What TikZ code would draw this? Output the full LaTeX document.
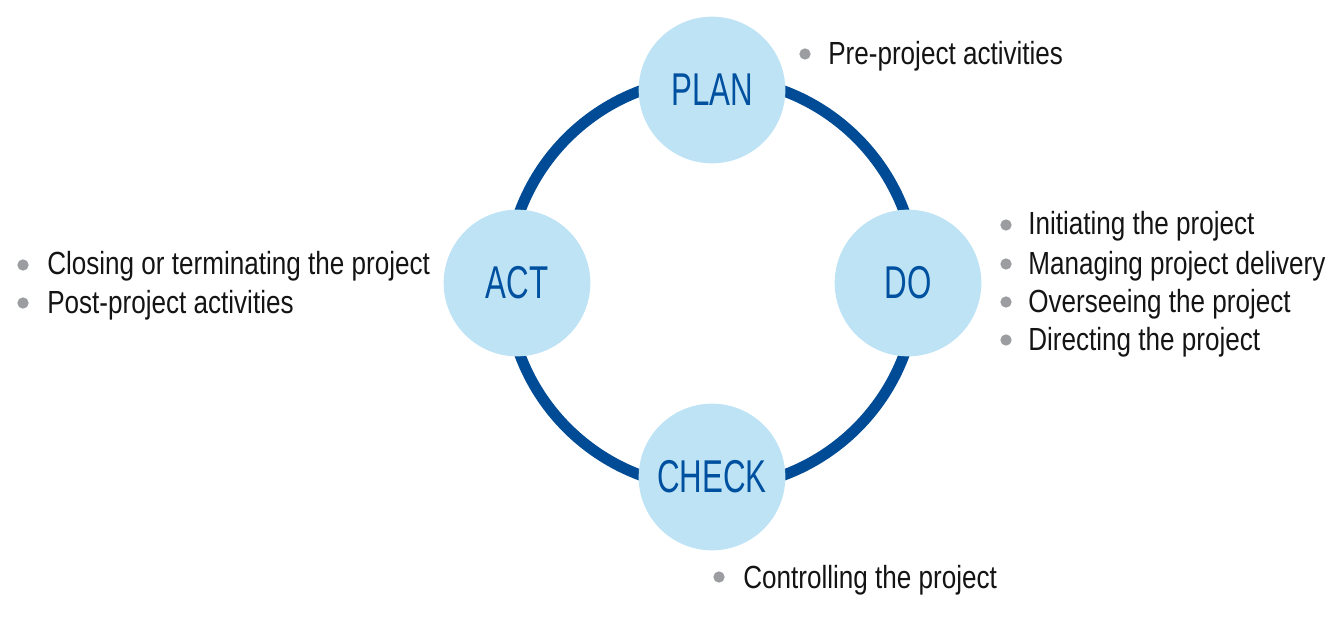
\documentclass[tikz,border=0pt]{standalone}
\usepackage{fontspec}
\setmainfont{Liberation Sans}[FakeStretch=0.815]
\newfontfamily\phasefont{Liberation Sans}[FakeStretch=0.68]
\definecolor{ringblue}{RGB}{0,75,150}
\definecolor{phasefill}{RGB}{190,227,245}
\definecolor{phasetext}{RGB}{0,80,160}
\definecolor{bulletgray}{RGB}{155,157,161}
\definecolor{bodytext}{RGB}{20,20,20}
\tikzset{
  ring/.style={draw=ringblue, line width=8.25pt},
  phase/.style={circle, fill=phasefill, minimum size=110pt, inner sep=0pt,
    text=phasetext, font=\phasefont\fontsize{34.5}{40}\selectfont},
  bulletdot/.style={circle, fill=bulletgray, minimum size=8.5pt, inner sep=0pt},
  item/.style={anchor=base west, inner sep=0pt, text=bodytext,
    font=\fontsize{24}{28}\selectfont}
}
\begin{document}
\begin{tikzpicture}[x=0.75pt,y=-0.75pt]
\useasboundingbox (0,0) rectangle (1334,620);
\coordinate (c) at (712,283);
\draw[ring] (c) circle[radius=153.75pt];
\node[phase] (plan) at (712,90) {PLAN};
\node[phase] (do) at (908,283) {DO};
\node[phase] (check) at (712,477) {CHECK};
\node[phase] (act) at (517,283) {ACT};
% PLAN list
\node[bulletdot] (b1) at (805,54) {};
\node[item] (t1) at (828,65) {Pre-project activities};
% DO list
\node[bulletdot] (b2) at (1006,225) {};
\node[item] (t2) at (1028,235) {Initiating the project};
\node[bulletdot] (b3) at (1006,264) {};
\node[item] (t3) at (1028,274) {Managing project delivery};
\node[bulletdot] (b4) at (1006,302) {};
\node[item] (t4) at (1028,312) {Overseeing the project};
\node[bulletdot] (b5) at (1006,340) {};
\node[item] (t5) at (1028,350) {Directing the project};
% ACT list
\node[bulletdot] (b6) at (23,265) {};
\node[item] (t6) at (47,275) {Closing or terminating the project};
\node[bulletdot] (b7) at (23,303) {};
\node[item] (t7) at (47,313) {Post-project activities};
% CHECK list
\node[bulletdot] (b8) at (719,577) {};
\node[item] (t8) at (743,588) {Controlling the project};
\end{tikzpicture}
\end{document}
